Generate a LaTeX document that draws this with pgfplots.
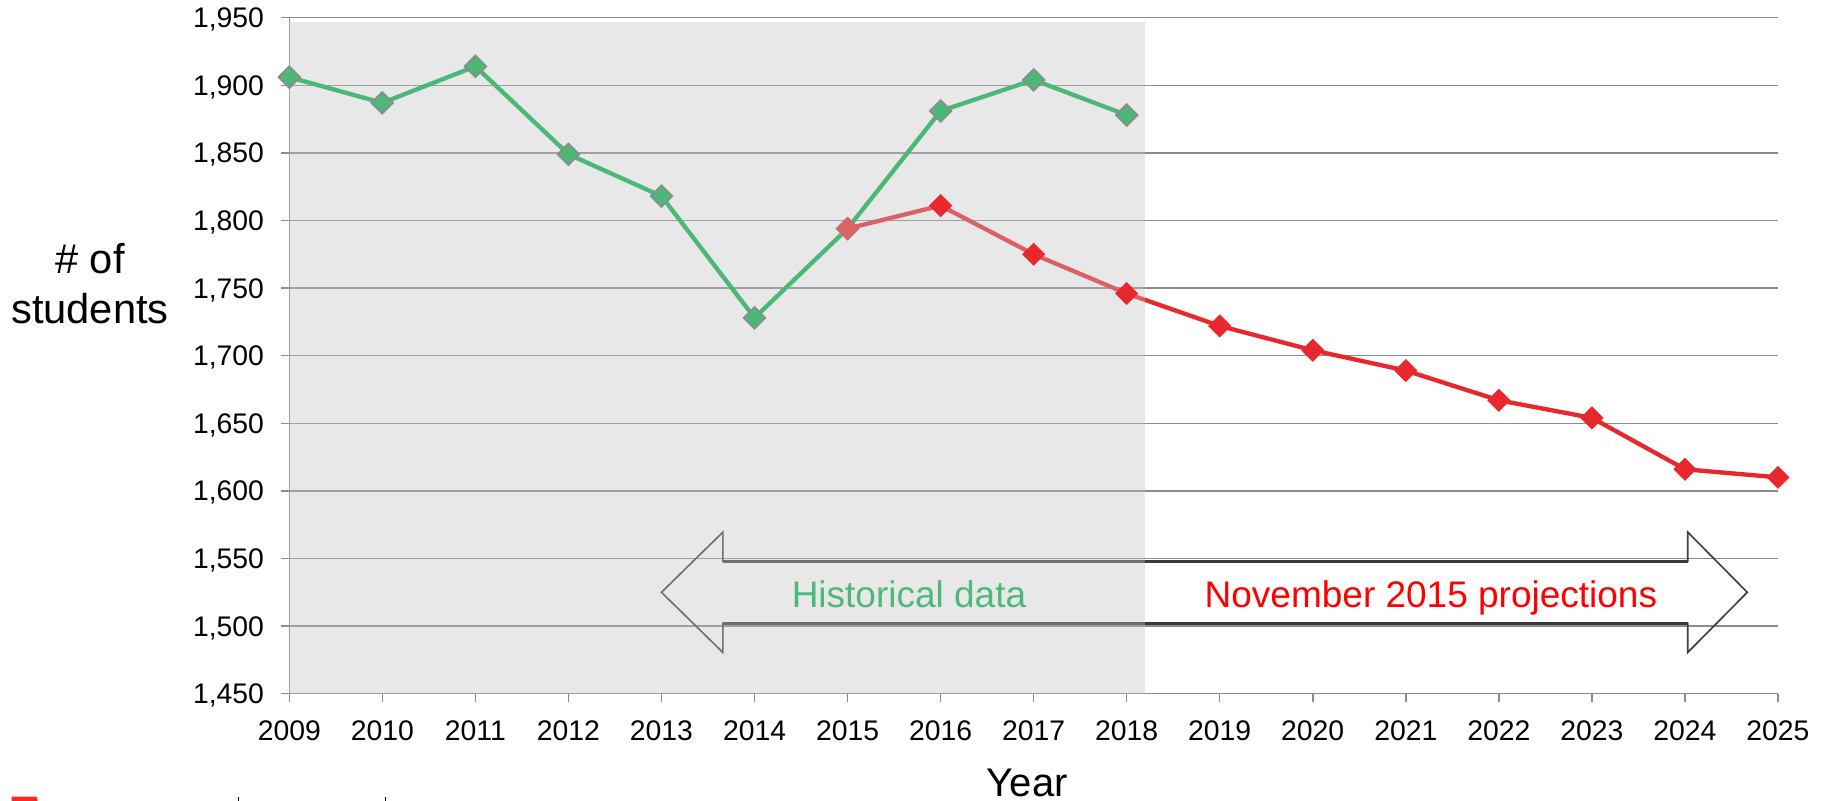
\documentclass[border=0pt]{standalone}
\usepackage{fontspec}
\setmainfont{Liberation Sans}
\usepackage{pgfplots}
\pgfplotsset{compat=1.18}

\definecolor{gline}{RGB}{75,184,120}
\definecolor{rline}{RGB}{233,40,45}
\definecolor{rfade}{RGB}{219,99,102}
\definecolor{shadegray}{RGB}{195,195,195}
\definecolor{gridgray}{RGB}{140,140,140}
\definecolor{mgray}{RGB}{140,140,140}
\definecolor{arrowgray}{RGB}{64,64,64}
\definecolor{htext}{RGB}{76,185,122}

\begin{document}
\begin{tikzpicture}
\useasboundingbox (0,0) rectangle (548.4pt,240.3pt);
\begin{axis}[
  at={(86.79pt,32.19pt)}, anchor=south west,
  scale only axis, width=446.6pt, height=202.8pt,
  xmin=2009, xmax=2025, ymin=1450, ymax=1950,
  clip=false,
  axis lines*=left,
  axis line style={-, draw=gridgray, line width=0.45pt},
  xtick={2009,2010,...,2025},
  ytick={1450,1500,...,1950},
  tick align=outside,
  major tick length=2.6pt,
  tick style={draw=gridgray, line width=0.45pt},
  ymajorgrids,
  grid style={draw=gridgray, line width=0.45pt},
  scaled y ticks=false,
  /pgf/number format/assume math mode=true,
  x tick label style={/pgf/number format/1000 sep={}, font=\fontsize{8.5}{10.2}\selectfont, anchor=north, inner sep=0pt, yshift=-5.2pt},
  y tick label style={/pgf/number format/1000 sep={,}, font=\fontsize{8.5}{10.2}\selectfont, anchor=base east, inner sep=0pt, yshift=-3.0pt, xshift=-4.8pt},
  xlabel={Year},
  xlabel style={font=\fontsize{12}{14.4}\selectfont, at={(axis cs:2016.93,1450)}, anchor=base, yshift=-30.9pt, inner sep=0pt},
]
% projections (red), drawn under the shading
\addplot[rline, line width=1.3pt, mark=square*, mark size=2.3pt, mark options={rotate=45, fill=rline, draw=rline, line width=0.3pt}]
  coordinates {(2015,1794) (2016,1811) (2017,1775) (2018,1746) (2019,1722) (2020,1704) (2021,1689) (2022,1667) (2023,1654) (2024,1616) (2025,1610)};
% double arrow outline
\draw[arrowgray, line width=0.5pt, line join=miter]
  (axis cs:2013.0,1525) -- (axis cs:2013.66,1569.5) -- (axis cs:2013.66,1548) -- (axis cs:2024.03,1548)
  -- (axis cs:2024.03,1569.5) -- (axis cs:2024.67,1525) -- (axis cs:2024.03,1480.5) -- (axis cs:2024.03,1502)
  -- (axis cs:2013.66,1502) -- (axis cs:2013.66,1480.5) -- cycle;
\draw[arrowgray!90!black, line width=0.9pt] (axis cs:2013.66,1548) -- (axis cs:2024.03,1548);
\draw[arrowgray!90!black, line width=0.9pt] (axis cs:2013.66,1502) -- (axis cs:2024.03,1502);
% historical shading
\fill[shadegray, fill opacity=0.38] (axis cs:2009,1450) rectangle (axis cs:2018.2,1947);
% historical data (green)
\addplot[gline, line width=1.3pt, mark=square*, mark size=2.3pt, mark options={rotate=45, fill=gline, draw=mgray, line width=0.5pt}]
  coordinates {(2009,1906) (2010,1887) (2011,1914) (2012,1849) (2013,1818) (2014,1728) (2015,1794) (2016,1881) (2017,1904) (2018,1878)};
\addplot[only marks, mark=square*, mark size=2.3pt, mark options={rotate=45, fill=rfade, draw=rfade, line width=0.3pt}]
  coordinates {(2015,1794)};
\node[anchor=base, text=htext, font=\fontsize{11.1}{13.3}\selectfont, inner sep=0pt] at (axis cs:2015.66,1514) {Historical data};
\node[anchor=base, text=red, font=\fontsize{11.1}{13.3}\selectfont, inner sep=0pt] at (axis cs:2021.27,1514) {November 2015 projections};
\end{axis}
\node[anchor=base, inner sep=0pt, font=\fontsize{12.5}{15}\selectfont] at (27pt,158.3pt) {\# of};
\node[anchor=base, inner sep=0pt, font=\fontsize{12.5}{15}\selectfont] at (27pt,143.3pt) {students};
\fill[red!85!white] (3.5pt,0) -- (11.3pt,0) -- (11pt,1.3pt) -- (3.5pt,1.3pt) -- cycle;
\draw[black, line width=0.3pt] (71.5pt,0) -- (71.5pt,1.3pt);
\draw[black, line width=0.3pt] (115.5pt,0) -- (115.5pt,1.3pt);
\end{tikzpicture}
\end{document}
